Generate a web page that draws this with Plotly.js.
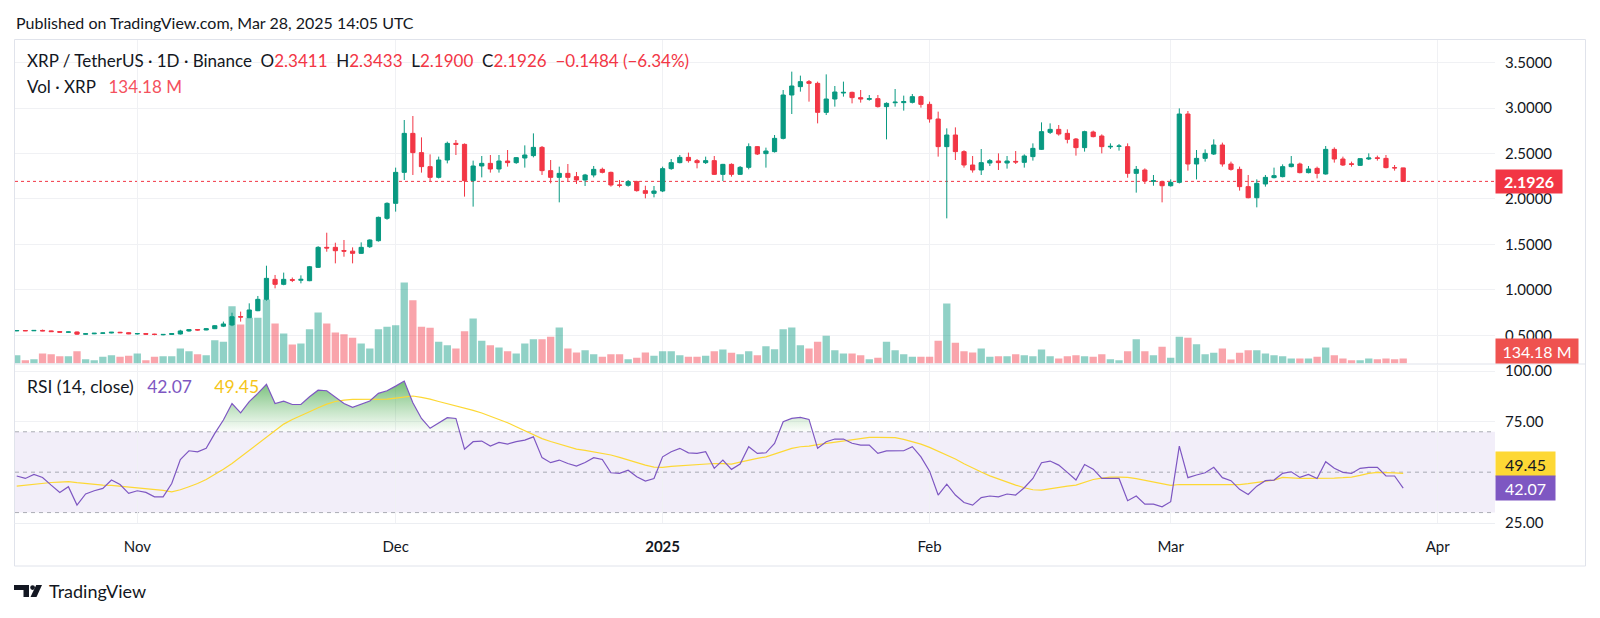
<!DOCTYPE html>
<html><head><meta charset="utf-8">
<script src="https://cdn.plot.ly/plotly-3.0.1.min.js"></script>
<style>html,body{margin:0;padding:0;background:#fff}#chart{width:1600px;height:618px}</style>
</head><body><div id="chart"></div><script>
const dates = [
'2024-10-18','2024-10-19','2024-10-20','2024-10-21','2024-10-22','2024-10-23','2024-10-24','2024-10-25','2024-10-26','2024-10-27','2024-10-28','2024-10-29','2024-10-30','2024-10-31',
'2024-11-01','2024-11-02','2024-11-03','2024-11-04','2024-11-05','2024-11-06','2024-11-07','2024-11-08','2024-11-09','2024-11-10','2024-11-11','2024-11-12','2024-11-13','2024-11-14','2024-11-15','2024-11-16','2024-11-17','2024-11-18','2024-11-19','2024-11-20','2024-11-21','2024-11-22','2024-11-23','2024-11-24','2024-11-25','2024-11-26','2024-11-27','2024-11-28','2024-11-29','2024-11-30',
'2024-12-01','2024-12-02','2024-12-03','2024-12-04','2024-12-05','2024-12-06','2024-12-07','2024-12-08','2024-12-09','2024-12-10','2024-12-11','2024-12-12','2024-12-13','2024-12-14','2024-12-15','2024-12-16','2024-12-17','2024-12-18','2024-12-19','2024-12-20','2024-12-21','2024-12-22','2024-12-23','2024-12-24','2024-12-25','2024-12-26','2024-12-27','2024-12-28','2024-12-29','2024-12-30','2024-12-31',
'2025-01-01','2025-01-02','2025-01-03','2025-01-04','2025-01-05','2025-01-06','2025-01-07','2025-01-08','2025-01-09','2025-01-10','2025-01-11','2025-01-12','2025-01-13','2025-01-14','2025-01-15','2025-01-16','2025-01-17','2025-01-18','2025-01-19','2025-01-20','2025-01-21','2025-01-22','2025-01-23','2025-01-24','2025-01-25','2025-01-26','2025-01-27','2025-01-28','2025-01-29','2025-01-30','2025-01-31',
'2025-02-01','2025-02-02','2025-02-03','2025-02-04','2025-02-05','2025-02-06','2025-02-07','2025-02-08','2025-02-09','2025-02-10','2025-02-11','2025-02-12','2025-02-13','2025-02-14','2025-02-15','2025-02-16','2025-02-17','2025-02-18','2025-02-19','2025-02-20','2025-02-21','2025-02-22','2025-02-23','2025-02-24','2025-02-25','2025-02-26','2025-02-27','2025-02-28',
'2025-03-01','2025-03-02','2025-03-03','2025-03-04','2025-03-05','2025-03-06','2025-03-07','2025-03-08','2025-03-09','2025-03-10','2025-03-11','2025-03-12','2025-03-13','2025-03-14','2025-03-15','2025-03-16','2025-03-17','2025-03-18','2025-03-19','2025-03-20','2025-03-21','2025-03-22','2025-03-23','2025-03-24','2025-03-25','2025-03-26','2025-03-27','2025-03-28'];

const openP = [0.548,0.552,0.549,0.553,0.548,0.540,0.534,0.536,0.512,0.516,
0.522,0.525,0.533,0.528,0.516,0.518,0.512,0.505,0.509,0.514,
0.547,0.562,0.558,0.572,0.600,0.613,0.706,0.693,0.770,0.895,
1.115,1.060,1.112,1.105,1.100,1.247,1.467,1.467,1.432,1.425,
1.401,1.474,1.540,1.786,1.951,2.292,2.721,2.509,2.355,2.237,
2.428,2.611,2.600,2.201,2.362,2.391,2.329,2.417,2.399,2.450,
2.476,2.567,2.311,2.237,2.281,2.245,2.208,2.263,2.325,2.292,
2.153,2.150,2.190,2.091,2.061,2.087,2.333,2.399,2.457,2.421,
2.399,2.421,2.270,2.380,2.270,2.347,2.575,2.498,2.520,2.666,
3.143,3.235,3.290,3.271,2.952,3.099,3.165,3.172,3.114,3.095,
3.103,3.015,3.058,3.059,3.062,3.125,3.040,2.879,2.575,2.703,
2.520,2.373,2.318,2.395,2.417,2.395,2.413,2.402,2.465,2.545,
2.732,2.765,2.721,2.659,2.564,2.736,2.692,2.572,2.578,2.575,
2.281,2.318,2.194,2.190,2.145,2.182,2.934,2.384,2.446,2.494,
2.593,2.384,2.325,2.135,2.013,2.164,2.234,2.245,2.355,2.384,
2.289,2.336,2.274,2.545,2.439,2.386,2.369,2.439,2.452,2.446,
2.344,2.3411];
const highP = [0.556,0.555,0.556,0.562,0.552,0.545,0.540,0.540,0.520,0.525,
0.528,0.536,0.537,0.532,0.522,0.520,0.516,0.513,0.521,0.560,
0.565,0.568,0.580,0.610,0.650,0.748,0.760,0.851,0.932,1.265,
1.163,1.189,1.135,1.159,1.262,1.480,1.628,1.518,1.548,1.467,
1.522,1.555,1.805,1.962,2.344,2.868,2.912,2.677,2.490,2.465,
2.630,2.648,2.610,2.421,2.472,2.483,2.483,2.538,2.460,2.589,
2.721,2.582,2.428,2.355,2.384,2.296,2.275,2.362,2.344,2.300,
2.208,2.208,2.200,2.145,2.142,2.355,2.439,2.483,2.509,2.439,
2.465,2.472,2.385,2.391,2.362,2.611,2.582,2.564,2.703,3.198,
3.400,3.356,3.308,3.290,3.370,3.242,3.290,3.180,3.198,3.143,
3.143,3.062,3.209,3.136,3.154,3.136,3.070,2.960,2.776,2.787,
2.535,2.472,2.549,2.439,2.501,2.472,2.527,2.490,2.611,2.842,
2.831,2.813,2.765,2.670,2.750,2.751,2.710,2.611,2.604,2.611,
2.362,2.336,2.263,2.200,2.215,2.996,2.967,2.538,2.545,2.655,
2.619,2.410,2.355,2.263,2.215,2.263,2.344,2.380,2.472,2.399,
2.362,2.355,2.582,2.567,2.465,2.410,2.446,2.501,2.476,2.483,
2.373,2.3433];
const lowP = [0.545,0.546,0.547,0.545,0.537,0.530,0.530,0.505,0.508,0.512,
0.516,0.522,0.524,0.512,0.508,0.508,0.500,0.499,0.503,0.508,
0.540,0.552,0.555,0.568,0.590,0.600,0.650,0.690,0.765,0.880,
1.016,1.050,1.085,1.071,1.095,1.240,1.419,1.291,1.364,1.291,
1.395,1.460,1.530,1.770,1.860,2.208,2.263,2.289,2.190,2.225,
2.391,2.483,2.025,1.915,2.237,2.289,2.289,2.355,2.385,2.344,
2.457,2.263,2.171,1.962,2.190,2.164,2.142,2.237,2.281,2.135,
2.127,2.135,2.080,2.006,2.017,2.075,2.320,2.391,2.399,2.336,
2.384,2.263,2.197,2.245,2.263,2.325,2.483,2.344,2.510,2.655,
2.934,3.180,3.070,2.831,2.923,3.015,3.125,3.051,3.059,3.081,
3.005,2.655,3.015,2.971,3.050,3.004,2.839,2.465,1.786,2.428,
2.344,2.289,2.263,2.362,2.318,2.333,2.384,2.344,2.421,2.538,
2.714,2.696,2.611,2.476,2.520,2.677,2.501,2.549,2.531,2.233,
2.069,2.164,2.145,1.962,2.135,2.170,2.311,2.215,2.410,2.483,
2.355,2.311,2.091,2.006,1.907,2.135,2.226,2.237,2.347,2.281,
2.281,2.226,2.267,2.399,2.362,2.355,2.362,2.428,2.421,2.336,
2.311,2.1900];
const closeP = [0.552,0.549,0.553,0.548,0.540,0.534,0.536,0.512,0.516,0.522,
0.525,0.533,0.528,0.516,0.518,0.512,0.509,0.509,0.518,0.547,
0.562,0.558,0.572,0.605,0.624,0.704,0.700,0.778,0.895,1.126,
1.060,1.115,1.105,1.115,1.254,1.467,1.460,1.430,1.425,1.401,
1.467,1.548,1.797,1.951,2.292,2.721,2.509,2.355,2.237,2.428,
2.611,2.600,2.201,2.362,2.391,2.329,2.417,2.399,2.454,2.483,
2.567,2.311,2.237,2.281,2.237,2.208,2.263,2.325,2.292,2.153,
2.150,2.190,2.091,2.061,2.087,2.333,2.399,2.457,2.421,2.399,
2.421,2.270,2.380,2.270,2.347,2.575,2.494,2.527,2.666,3.143,
3.242,3.290,3.271,2.952,3.099,3.176,3.172,3.114,3.099,3.103,
3.015,3.051,3.064,3.070,3.125,3.040,2.879,2.575,2.703,2.520,
2.373,2.318,2.399,2.421,2.399,2.417,2.406,2.472,2.556,2.740,
2.765,2.714,2.655,2.564,2.740,2.685,2.575,2.578,2.582,2.281,
2.325,2.197,2.200,2.145,2.182,2.934,2.384,2.446,2.501,2.593,
2.384,2.325,2.135,2.013,2.171,2.237,2.256,2.355,2.384,2.289,
2.329,2.281,2.545,2.439,2.373,2.380,2.443,2.450,2.446,2.344,
2.341,2.1926];
const volumeM = [222,88,115,268,249,196,196,330,115,88,
180,222,180,206,268,88,180,196,196,402,
330,249,222,624,582,1536,1045,1225,1225,1715,
1072,804,509,536,919,1367,1072,831,785,689,
536,402,919,984,1026,2171,1696,984,957,582,
490,402,866,1206,608,490,429,330,268,536,
651,651,716,965,402,295,356,249,180,249,
249,115,153,295,206,330,330,222,180,180,
206,330,375,287,249,330,222,464,383,919,
965,490,402,582,742,356,268,268,222,115,
153,582,356,249,180,180,180,608,1608,555,
330,295,402,180,196,196,249,222,196,375,
196,134,196,222,196,180,249,115,88,330,
651,330,222,448,153,716,689,517,249,287,
402,107,287,356,356,268,222,196,134,134,
134,180,429,222,134,88,88,134,115,134,
115,134.18];
const rsi = [48.1,46.9,48.9,47.4,43.6,40.0,42.8,33.7,39.2,40.8,
42.0,46.1,43.9,39.5,40.8,40.0,37.8,37.8,44.4,56.3,
60.6,60.1,61.8,69.2,75.8,84.0,79.4,84.9,89.0,93.5,
84.0,85.2,83.5,83.5,87.3,90.6,90.3,87.0,84.0,82.1,
83.5,85.2,89.0,90.3,92.6,95.1,84.4,76.6,71.7,74.5,
77.0,76.6,61.4,65.1,65.4,62.9,64.7,63.9,65.1,65.9,
67.5,57.2,54.7,56.0,54.3,53.0,54.8,57.2,56.3,49.7,
49.4,51.0,47.7,45.6,46.9,57.6,60.1,61.8,59.6,59.3,
60.1,51.9,56.0,51.4,54.0,62.6,59.3,59.6,64.2,75.0,
76.6,77.1,76.1,61.8,65.1,66.4,66.4,64.3,63.4,63.4,
59.3,60.5,60.5,60.6,62.6,57.6,50.5,38.7,44.1,38.7,
35.0,33.7,37.4,38.2,37.8,39.2,38.7,42.3,46.9,54.7,
55.5,53.5,49.9,46.1,53.8,51.5,46.9,46.9,46.9,35.9,
38.2,34.2,34.2,32.9,35.4,62.9,47.3,48.6,49.7,52.4,
47.3,45.8,41.5,39.0,43.1,45.8,46.1,49.4,50.2,47.4,
48.9,46.9,55.2,51.9,49.9,49.4,51.9,52.4,52.4,48.1,
48.1,42.07];
const rsiMA = [43.1,43.6,44.1,44.4,44.9,45.1,45.3,44.8,44.3,43.9,
43.6,43.5,43.1,42.8,42.5,42.1,41.6,41.0,40.3,41.3,
42.8,44.4,46.4,48.7,51.4,54.3,57.6,60.9,64.2,67.5,
70.9,73.8,76.1,77.9,79.9,81.9,83.7,85.0,85.7,86.0,
86.0,86.0,86.0,86.2,86.7,87.3,87.7,87.0,86.2,85.0,
83.9,82.9,81.9,80.6,79.3,77.8,76.3,74.5,72.5,70.5,
68.4,66.6,65.2,63.9,62.6,61.4,60.8,60.1,59.5,58.5,
57.3,56.0,54.7,53.5,52.5,52.4,52.9,53.2,53.5,53.9,
54.2,54.3,54.2,54.0,55.0,56.0,56.8,57.6,59.0,60.6,
61.8,62.6,62.9,63.6,64.2,64.9,65.6,66.2,66.9,67.2,
67.2,67.2,67.1,66.2,65.1,63.9,62.3,60.5,58.6,56.5,
54.2,52.0,50.1,48.2,46.6,45.1,43.6,42.3,41.3,41.1,
41.8,42.6,43.1,43.6,45.1,46.4,47.1,47.6,47.6,47.4,
46.8,45.9,45.1,44.1,43.5,43.9,43.9,43.9,43.9,43.8,
43.6,43.6,43.8,44.3,44.8,45.4,46.1,47.4,47.1,46.9,
46.9,46.9,46.9,47.1,47.3,47.6,48.4,49.4,49.9,49.9,
49.7,49.45];
const monthTicks = ['2024-11-01','2024-12-01','2025-01-01','2025-02-01','2025-03-01','2025-04-01'];
const monthLabels = ['Nov','Dec','<b>2025</b>','Feb','Mar','Apr'];
const priceTicks = [0.5,1.0,1.5,2.0,2.5,3.0,3.5];
const priceLabels = ['0.5000','1.0000','1.5000','2.0000','2.5000','3.0000','3.5000'];
const rsiTicks = [25,75,100];
const rsiLabels = ['25.00','75.00','100.00'];
const rsiLevels = [70,50,30];

const W = 1600, H = 618;
const X = p => p / W;
const Y = p => 1 - p / H;
const FONT = 'Lato, "Noto Sans", sans-serif';
const TXT = '#131722', GREEN = '#089981', RED = '#f23645';
const n = closeP.length;
const last = n - 1;

const up = closeP.map((c, i) => c >= openP[i]);
const volColors = up.map(u => u ? 'rgba(8,153,129,0.45)' : 'rgba(242,54,69,0.45)');

// overbought fill (RSI above 70)
const tms = dates.map(d => Date.parse(d + 'T00:00:00Z'));
const obX = [], obY = [], obBase = [];
for (let i = 0; i < n; i++) {
  if (i > 0) {
    const a = rsi[i - 1], b = rsi[i];
    if ((a - 70) * (b - 70) < 0) {
      const f = (70 - a) / (b - a);
      obX.push(tms[i - 1] + f * (tms[i] - tms[i - 1])); obY.push(70); obBase.push(70);
    }
  }
  obX.push(tms[i]); obY.push(Math.max(rsi[i], 70)); obBase.push(70);
}

const traces = [
  { type: 'bar', x: dates, y: volumeM, xaxis: 'x', yaxis: 'y',
    marker: { color: volColors, line: { width: 0 } }, width: 0.85 * 86400000, hoverinfo: 'skip', showlegend: false },
  { type: 'candlestick', x: dates, open: openP, high: highP, low: lowP, close: closeP, xaxis: 'x', yaxis: 'y2',
    increasing: { line: { color: GREEN, width: 1 }, fillcolor: GREEN },
    decreasing: { line: { color: RED, width: 1 }, fillcolor: RED },
    hoverinfo: 'skip', showlegend: false },
  { type: 'scatter', mode: 'lines', x: obX, y: obBase, xaxis: 'x', yaxis: 'y3',
    line: { width: 0, color: 'rgba(0,0,0,0)' }, hoverinfo: 'skip', showlegend: false },
  { type: 'scatter', mode: 'lines', x: obX, y: obY, xaxis: 'x', yaxis: 'y3',
    line: { width: 0, color: 'rgba(0,0,0,0)' }, fill: 'tonexty',
    fillgradient: { type: 'vertical', start: 70, stop: 100,
      colorscale: [[0, 'rgba(76,175,80,0.02)'], [1, 'rgba(56,160,60,0.85)']] },
    hoverinfo: 'skip', showlegend: false },
  { type: 'scatter', mode: 'lines', x: dates, y: rsiMA, xaxis: 'x', yaxis: 'y3',
    line: { color: '#fdd835', width: 1.2 }, hoverinfo: 'skip', showlegend: false },
  { type: 'scatter', mode: 'lines', x: dates, y: rsi, xaxis: 'x', yaxis: 'y3',
    line: { color: '#7e57c2', width: 1.2 }, hoverinfo: 'skip', showlegend: false }
];

const GRID = '#f0f1f4';
const shapes = [
  { type: 'rect', xref: 'paper', yref: 'y3', x0: X(15), x1: X(1495), y0: 30, y1: 70,
    fillcolor: 'rgba(126,87,194,0.1)', line: { width: 0 }, layer: 'below' },
  ...rsiLevels.map(v => ({ type: 'line', xref: 'paper', yref: 'y3', x0: X(15), x1: X(1495), y0: v, y1: v,
    line: { color: 'rgba(120,123,134,0.6)', width: 1, dash: '4px,4px' }, layer: 'below' })),
  { type: 'line', xref: 'paper', yref: 'y2', x0: X(15), x1: X(1495), y0: closeP[last], y1: closeP[last],
    line: { color: RED, width: 1, dash: 'dot' }, layer: 'below' },
  { type: 'rect', xref: 'paper', yref: 'paper', x0: X(14.5), x1: X(1585.5), y0: Y(566), y1: Y(39.5),
    line: { color: '#e0e3eb', width: 1 }, layer: 'above' },
  { type: 'line', xref: 'paper', yref: 'paper', x0: X(14.5), x1: X(1585.5), y0: Y(364), y1: Y(364),
    line: { color: '#e0e3eb', width: 1 }, layer: 'above' },
  { type: 'line', xref: 'paper', yref: 'paper', x0: X(14.5), x1: X(1495), y0: Y(523.5), y1: Y(523.5),
    line: { color: '#eceef2', width: 1 }, layer: 'above' },
  // TradingView logo
  { type: 'path', xref: 'paper', yref: 'paper', layer: 'above',
    path: `M ${X(14)},${Y(585)} L ${X(29)},${Y(585)} L ${X(29)},${Y(597)} L ${X(23.5)},${Y(597)} L ${X(23.5)},${Y(590)} L ${X(14)},${Y(590)} Z`,
    fillcolor: TXT, line: { width: 0 } },
  { type: 'circle', xref: 'paper', yref: 'paper', layer: 'above',
    x0: X(30.2), x1: X(35), y0: Y(590), y1: Y(585.2), fillcolor: TXT, line: { width: 0 } },
  { type: 'path', xref: 'paper', yref: 'paper', layer: 'above',
    path: `M ${X(36.2)},${Y(585)} L ${X(42)},${Y(585)} L ${X(36.5)},${Y(597)} L ${X(30.5)},${Y(597)} Z`,
    fillcolor: TXT, line: { width: 0 } }
];

const chg = closeP[last] - closeP[last - 1];
const pct = chg / closeP[last - 1] * 100;
const sgn = (v, d) => (v < 0 ? '\u2212' : '+') + Math.abs(v).toFixed(d);
const red = s => `<span style="color:${RED}">${s}</span>`;
const sp = '\u00A0\u00A0';
const sp3 = '\u00A0\u00A0\u00A0';
const sp5 = '\u00A0\u00A0\u00A0\u00A0\u00A0';
const ohlcText = 'XRP / TetherUS \u00B7 1D \u00B7 Binance' + sp +
  'O' + red(openP[last].toFixed(4)) + sp + 'H' + red(highP[last].toFixed(4)) + sp +
  'L' + red(lowP[last].toFixed(4)) + sp + 'C' + red(closeP[last].toFixed(4)) + sp +
  red(sgn(chg, 4) + ' (' + sgn(pct, 2) + '%)');

const ann = (o) => Object.assign({ showarrow: false, xanchor: 'left', yanchor: 'middle',
  font: { family: FONT, size: 15, color: TXT } }, o);

const annotations = [
  ann({ xref: 'paper', yref: 'paper', x: X(14), y: Y(22), text: 'Published on TradingView.com, Mar 28, 2025 14:05 UTC', font: { family: FONT, size: 16, color: TXT } }),
  ann({ xref: 'paper', yref: 'paper', x: X(25), y: Y(61), text: ohlcText, font: { family: FONT, size: 17, color: TXT } }),
  ann({ xref: 'paper', yref: 'paper', x: X(25), y: Y(86), text: 'Vol \u00B7 XRP' + sp3 + `<span style="color:#f4515d">${volumeM[last].toFixed(2)}\u00A0M</span>`, font: { family: FONT, size: 17, color: TXT } }),
  ann({ xref: 'paper', yref: 'paper', x: X(25), y: Y(386), text: 'RSI (14, close)' + sp3 + `<span style="color:#7e57c2">${rsi[last].toFixed(2)}</span>` + sp5 + `<span style="color:#f5c518">${rsiMA[last].toFixed(2)}</span>`, font: { family: FONT, size: 17.5, color: TXT } }),
  ann({ xref: 'paper', yref: 'paper', x: X(47), y: Y(591), text: 'TradingView', font: { family: FONT, size: 18, color: TXT } }),
  // price last label
  ann({ xref: 'paper', yref: 'y2', x: X(1495), y: closeP[last], text: '<b>' + closeP[last].toFixed(4) + '</b>',
    bgcolor: RED, width: 62, height: 19, borderpad: 2, align: 'center', font: { family: FONT, size: 16, color: '#ffffff' } }),
  // volume last label
  ann({ xref: 'paper', yref: 'paper', x: X(1495), y: Y(351), text: volumeM[last].toFixed(2) + '\u00A0M',
    bgcolor: '#ef5350', width: 78, height: 20, borderpad: 2, align: 'center', font: { family: FONT, size: 16, color: '#ffffff' } }),
  // RSI labels
  ann({ xref: 'paper', yref: 'y3', x: X(1495), y: rsiMA[last], yshift: 9, text: rsiMA[last].toFixed(2),
    bgcolor: '#fdd835', width: 55, height: 20, borderpad: 2, align: 'center', font: { family: FONT, size: 16, color: '#131722' } }),
  ann({ xref: 'paper', yref: 'y3', x: X(1495), y: rsi[last], text: rsi[last].toFixed(2),
    bgcolor: '#7e57c2', width: 55, height: 20, borderpad: 2, align: 'center', font: { family: FONT, size: 16, color: '#ffffff' } })
];

const layout = {
  width: W, height: H, margin: { l: 0, r: 0, t: 0, b: 0 },
  paper_bgcolor: '#ffffff', plot_bgcolor: 'rgba(0,0,0,0)',
  showlegend: false, dragmode: false, boxgap: 0.3,
  xaxis: { type: 'date', domain: [X(15), X(1495)], range: ['2024-10-17 19:12', '2025-04-07 15:50'],
    anchor: 'y3', showgrid: true, gridcolor: GRID, gridwidth: 1, zeroline: false, showline: false,
    tickmode: 'array', tickvals: monthTicks, ticktext: monthLabels, ticks: '', ticklabelstandoff: 12,
    tickfont: { family: FONT, size: 15, color: TXT }, rangeslider: { visible: false }, fixedrange: true },
  yaxis: { domain: [Y(363.5), Y(39.5)], range: [0, 8683], showgrid: false, zeroline: false,
    showticklabels: false, fixedrange: true, anchor: 'x' },
  yaxis2: { overlaying: 'y', side: 'right', anchor: 'x', range: [0.1892, 3.7536],
    showgrid: true, gridcolor: GRID, zeroline: false, showline: false, ticks: '',
    tickmode: 'array', tickvals: priceTicks, ticktext: priceLabels, ticklabelstandoff: 9,
    tickfont: { family: FONT, size: 15, color: TXT }, fixedrange: true },
  yaxis3: { domain: [Y(523.5), Y(364.5)], range: [24.6, 103.3], side: 'right', anchor: 'x',
    showgrid: true, gridcolor: GRID, zeroline: false, showline: false, ticks: '',
    tickmode: 'array', tickvals: rsiTicks, ticktext: rsiLabels, ticklabelstandoff: 9,
    tickfont: { family: FONT, size: 15, color: TXT }, fixedrange: true },
  shapes: shapes,
  annotations: annotations
};

Plotly.newPlot('chart', traces, layout, { staticPlot: true, displayModeBar: false });
</script></body></html>
